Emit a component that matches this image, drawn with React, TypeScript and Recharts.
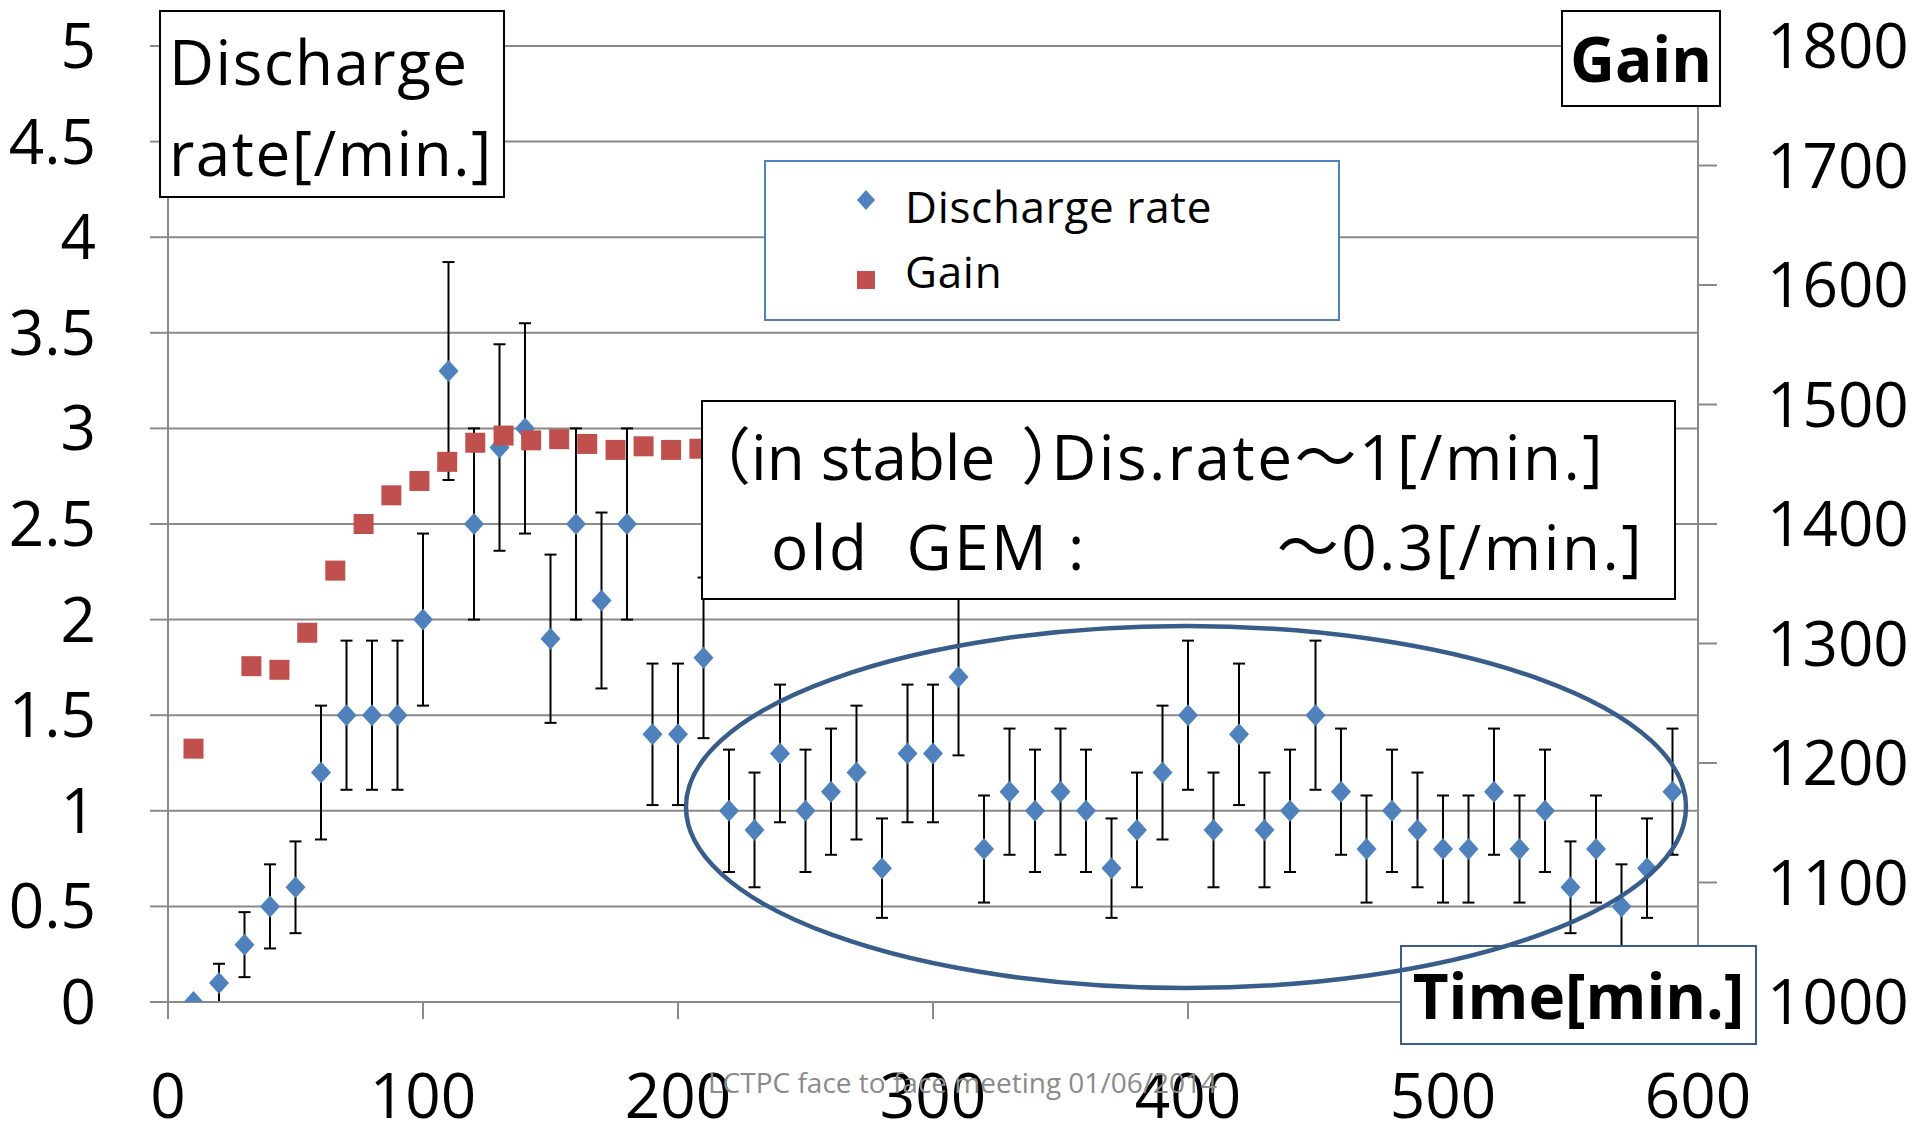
import React from "react";
import {
  ScatterChart,
  Scatter,
  XAxis,
  YAxis,
  CartesianGrid,
  ErrorBar,
  Legend,
} from "recharts";

const FONT = "'Open Sans', 'Noto Sans CJK JP', sans-serif";

// discharge rate, one point every 10 min
const rateTime = [
  10, 20, 30, 40, 50, 60, 70, 80, 90, 100, 110, 120, 130, 140, 150, 160, 170,
  180, 190, 200, 210, 220, 230, 240, 250, 260, 270, 280, 290, 300, 310, 320,
  330, 340, 350, 360, 370, 380, 390, 400, 410, 420, 430, 440, 450, 460, 470,
  480, 490, 500, 510, 520, 530, 540, 550, 560, 570, 580, 590,
];
const rateValues = [
  0, 0.1, 0.3, 0.5, 0.6, 1.2, 1.5, 1.5, 1.5, 2.0, 3.3, 2.5, 2.9, 3.0, 1.9, 2.5,
  2.1, 2.5, 1.4, 1.4, 1.8, 1.0, 0.9, 1.3, 1.0, 1.1, 1.2, 0.7, 1.3, 1.3, 1.7, 0.8,
  1.1, 1.0, 1.1, 1.0, 0.7, 0.9, 1.2, 1.5, 0.9, 1.4, 0.9, 1.0, 1.5, 1.1, 0.8, 1.0,
  0.9, 0.8, 0.8, 1.1, 0.8, 1.0, 0.6, 0.8, 0.5, 0.7, 1.1,
];
const rateErrors = [
  0, 0.1, 0.17, 0.22, 0.24, 0.35, 0.39, 0.39, 0.39, 0.45, 0.57, 0.5, 0.54, 0.55,
  0.44, 0.5, 0.46, 0.5, 0.37, 0.37, 0.42, 0.32, 0.3, 0.36, 0.32, 0.33, 0.35,
  0.26, 0.36, 0.36, 0.41, 0.28, 0.33, 0.32, 0.33, 0.32, 0.26, 0.3, 0.35, 0.39,
  0.3, 0.37, 0.3, 0.32, 0.39, 0.33, 0.28, 0.32, 0.3, 0.28, 0.28, 0.33, 0.28,
  0.32, 0.24, 0.28, 0.22, 0.26, 0.33,
];

// gain measurements
const gainTime = [
  10, 32.7, 43.7, 54.6, 65.6, 76.7, 87.6, 98.6, 109.5, 120.5, 131.6, 142.4,
  153.4, 164.4, 175.5, 186.5, 197.3, 208.4,
];
const gainValues = [
  1212, 1281, 1278, 1309, 1361, 1400, 1424, 1436, 1452, 1468, 1474, 1470, 1471,
  1467, 1462, 1465, 1462, 1463,
];

const rateTicks = [0, 0.5, 1, 1.5, 2, 2.5, 3, 3.5, 4, 4.5, 5];
const gainTicks = [1000, 1100, 1200, 1300, 1400, 1500, 1600, 1700, 1800];
const timeTicks = [0, 100, 200, 300, 400, 500, 600];

const rateData = rateTime.map((t, i) => ({
  x: t,
  y: rateValues[i],
  err: rateErrors[i],
}));
const gainData = gainTime.map((t, i) => ({ x: t, y: gainValues[i] }));

const BLUE = "#4F81BD";
const RED = "#C0504D";
const GRID = "#8a8a8a";
const DARKBLUE = "#385D8A";

const Diamond = (props: any) => {
  const { cx, cy } = props;
  if (cx == null || cy == null) return null;
  return (
    <polygon
      points={`${cx},${cy - 11} ${cx + 10},${cy} ${cx},${cy + 11} ${cx - 10},${cy}`}
      fill={BLUE}
    />
  );
};

const Square = (props: any) => {
  const { cx, cy } = props;
  if (cx == null || cy == null) return null;
  return <rect x={cx - 10} y={cy - 10} width={20} height={20} fill={RED} />;
};

const tickStyle = { fontSize: 62, fill: "#000", fontFamily: FONT };

const renderLegend = (props: any) => {
  const items = props.payload || [];
  return (
    <div
      style={{
        width: 576,
        height: 161,
        border: `2px solid ${BLUE}`,
        background: "#fff",
        boxSizing: "border-box",
        position: "relative",
        fontFamily: FONT,
        fontSize: 44,
        letterSpacing: 0.7,
        color: "#000",
      }}
    >
      {items.map((item: any, i: number) => (
        <div key={item.value}>
          <svg
            width={24}
            height={24}
            style={{
              position: "absolute",
              left: 88,
              top: i === 0 ? 26 : 106,
            }}
          >
            {i === 0 ? (
              <polygon points="12,2 21,12 12,22 3,12" fill={BLUE} />
            ) : (
              <rect x={3} y={3} width={18} height={18} fill={RED} />
            )}
          </svg>
          <div
            style={{
              position: "absolute",
              left: 139,
              top: i === 0 ? 18 : 83,
              lineHeight: "52px",
              whiteSpace: "nowrap",
            }}
          >
            {item.value}
          </div>
        </div>
      ))}
    </div>
  );
};

const boxBase: React.CSSProperties = {
  position: "absolute",
  background: "#fff",
  boxSizing: "border-box",
  fontFamily: FONT,
  color: "#000",
  whiteSpace: "nowrap",
};

export default function App() {
  return (
    <div
      style={{
        position: "absolute",
        left: 0,
        top: 0,
        width: 1920,
        height: 1127,
        background: "#fff",
        overflow: "hidden",
      }}
    >
      <ScatterChart
        width={1920}
        height={1127}
        margin={{ top: 46, right: 0, bottom: 0, left: 0 }}
      >
        <CartesianGrid
          yAxisId="rate"
          horizontal={true}
          vertical={false}
          stroke={GRID}
          strokeWidth={2}
        />
        <XAxis
          type="number"
          dataKey="x"
          domain={[0, 600]}
          ticks={timeTicks}
          allowDataOverflow
          height={125}
          tickSize={17}
          tickMargin={55}
          tick={tickStyle}
          stroke={GRID}
          strokeWidth={2}
        />
        <YAxis
          yAxisId="rate"
          type="number"
          dataKey="y"
          domain={[0, 5]}
          ticks={rateTicks}
          allowDataOverflow
          width={168}
          tickSize={18}
          tickMargin={54}
          tick={tickStyle}
          stroke={GRID}
          strokeWidth={2}
        />
        <YAxis
          yAxisId="gain"
          orientation="right"
          type="number"
          dataKey="y"
          domain={[1000, 1800]}
          ticks={gainTicks}
          allowDataOverflow
          width={222}
          tickSize={19}
          tickMargin={50}
          tick={tickStyle}
          stroke={GRID}
          strokeWidth={2}
        />
        <Scatter
          name="Discharge rate"
          data={rateData}
          yAxisId="rate"
          fill={BLUE}
          shape={Diamond}
          isAnimationActive={false}
        >
          <ErrorBar
            dataKey="err"
            direction="y"
            width={6}
            stroke="#000"
            strokeWidth={2}
          />
        </Scatter>
        <Scatter
          name="Gain"
          data={gainData}
          yAxisId="gain"
          fill={RED}
          shape={Square}
          isAnimationActive={false}
        />
        <Legend
          content={renderLegend}
          layout="vertical"
          align="center"
          verticalAlign="middle"
          wrapperStyle={{ left: 764, top: 160, width: 576, height: 161 }}
        />
      </ScatterChart>

      {/* axis title boxes */}
      <div
        style={{
          ...boxBase,
          left: 159,
          top: 10,
          width: 346,
          height: 188,
          border: "2px solid #000",
          paddingLeft: 8,
          paddingTop: 4,
          fontSize: 62,
          letterSpacing: 1.5,
          lineHeight: "91px",
        }}
      >
        <div>Discharge</div>
        <div>rate[/min.]</div>
      </div>
      <div
        style={{
          ...boxBase,
          left: 1561,
          top: 10,
          width: 160,
          height: 97,
          border: "2px solid #000",
          fontSize: 62,
          fontWeight: 700,
          lineHeight: "93px",
          textAlign: "center",
        }}
      >
        Gain
      </div>
      <div
        style={{
          ...boxBase,
          left: 1400,
          top: 945,
          width: 357,
          height: 100,
          border: `2px solid ${DARKBLUE}`,
          fontSize: 62,
          fontWeight: 700,
          lineHeight: "96px",
          textAlign: "center",
        }}
      >
        Time[min.]
      </div>

      {/* note box */}
      <div
        style={{
          ...boxBase,
          left: 701,
          top: 400,
          width: 975,
          height: 200,
          border: "2px solid #000",
          fontSize: 62,
        }}
      >
        <div style={{ position: "absolute", left: -14, top: 14, lineHeight: "80px" }}>
          （in stable
          <span style={{ marginLeft: 26, marginRight: -32 }}>）</span>
          <span style={{ letterSpacing: 2.5 }}>Dis.rate～1[/min.]</span>
        </div>
        <div
          style={{
            position: "absolute",
            left: 68,
            top: 104,
            lineHeight: "80px",
            letterSpacing: 2.5,
          }}
        >
          old&nbsp;&nbsp;GEM :
        </div>
        <div
          style={{
            position: "absolute",
            right: 30,
            top: 104,
            lineHeight: "80px",
            letterSpacing: 2.5,
          }}
        >
          ～0.3[/min.]
        </div>
      </div>

      <div
        style={{
          position: "absolute",
          left: 708,
          top: 1064,
          fontFamily: FONT,
          fontSize: 28,
          lineHeight: "36px",
          color: "#8a8a8a",
          whiteSpace: "nowrap",
        }}
      >
        LCTPC face to face meeting 01/06/2014
      </div>

      <svg
        width={1920}
        height={1127}
        style={{ position: "absolute", left: 0, top: 0, pointerEvents: "none" }}
      >
        <ellipse
          cx={1186}
          cy={807}
          rx={500}
          ry={181}
          fill="none"
          stroke={DARKBLUE}
          strokeWidth={4.5}
        />
      </svg>
    </div>
  );
}
